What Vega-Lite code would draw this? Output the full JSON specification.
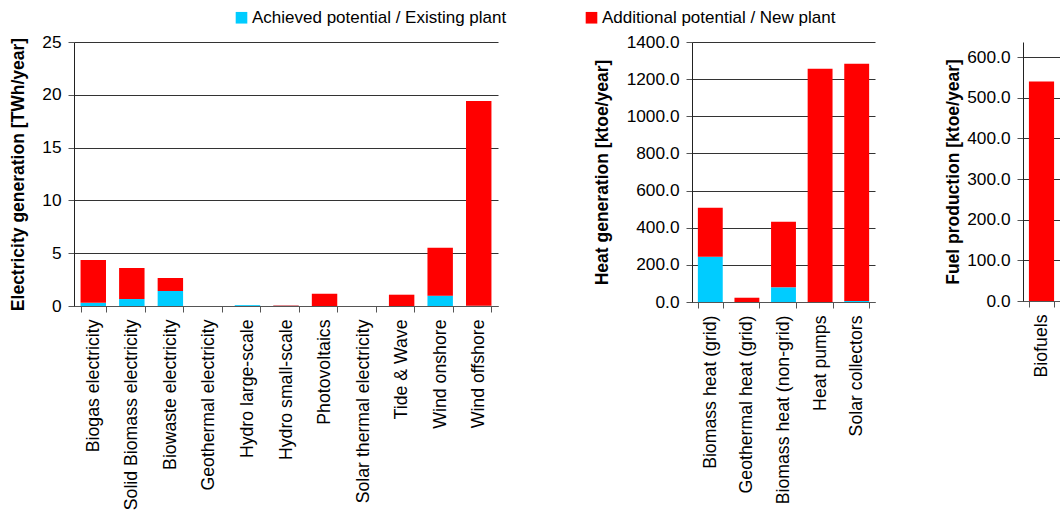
{
  "$schema": "https://vega.github.io/schema/vega-lite/v6.json",
  "padding": {"left": 9, "top": 9, "right": 0, "bottom": 0},
  "background": "white",
  "config": {
    "font": "Liberation Sans",
    "view": {"stroke": null},
    "axis": {
      "labelFont": "Liberation Sans", "labelFontSize": 17.3, "labelColor": "#000", "labelLimit": 400,
      "titleFont": "Liberation Sans", "titleFontSize": 17.5, "titleFontWeight": "bold", "titleColor": "#000",
      "tickColor": "#555", "domainColor": "#222", "gridColor": "#333", "gridOpacity": 1,
      "tickSize": 6, "labelPadding": 7, "labelOverlap": false, "labelFlush": false
    },
    "axisX": {"labelFontSize": 17.7},
    "legend": {"labelFont": "Liberation Sans", "labelFontSize": 17, "labelColor": "#000", "labelLimit": 400}
  },
  "datasets": {
    "d": [
      {"panel": "elec", "tech": "Biogas electricity", "series": "Achieved potential / Existing plant", "value": 0.3},
      {"panel": "elec", "tech": "Biogas electricity", "series": "Additional potential / New plant", "value": 4.05},
      {"panel": "elec", "tech": "Solid Biomass electricity", "series": "Achieved potential / Existing plant", "value": 0.66},
      {"panel": "elec", "tech": "Solid Biomass electricity", "series": "Additional potential / New plant", "value": 2.94},
      {"panel": "elec", "tech": "Biowaste electricity", "series": "Achieved potential / Existing plant", "value": 1.42},
      {"panel": "elec", "tech": "Biowaste electricity", "series": "Additional potential / New plant", "value": 1.23},
      {"panel": "elec", "tech": "Geothermal electricity", "series": "Achieved potential / Existing plant", "value": 0},
      {"panel": "elec", "tech": "Geothermal electricity", "series": "Additional potential / New plant", "value": 0},
      {"panel": "elec", "tech": "Hydro large-scale", "series": "Achieved potential / Existing plant", "value": 0.08},
      {"panel": "elec", "tech": "Hydro large-scale", "series": "Additional potential / New plant", "value": 0},
      {"panel": "elec", "tech": "Hydro small-scale", "series": "Achieved potential / Existing plant", "value": 0.02},
      {"panel": "elec", "tech": "Hydro small-scale", "series": "Additional potential / New plant", "value": 0.04},
      {"panel": "elec", "tech": "Photovoltaics", "series": "Achieved potential / Existing plant", "value": 0.01},
      {"panel": "elec", "tech": "Photovoltaics", "series": "Additional potential / New plant", "value": 1.16},
      {"panel": "elec", "tech": "Solar thermal electricity", "series": "Achieved potential / Existing plant", "value": 0},
      {"panel": "elec", "tech": "Solar thermal electricity", "series": "Additional potential / New plant", "value": 0},
      {"panel": "elec", "tech": "Tide & Wave", "series": "Achieved potential / Existing plant", "value": 0},
      {"panel": "elec", "tech": "Tide & Wave", "series": "Additional potential / New plant", "value": 1.07},
      {"panel": "elec", "tech": "Wind onshore", "series": "Achieved potential / Existing plant", "value": 0.98},
      {"panel": "elec", "tech": "Wind onshore", "series": "Additional potential / New plant", "value": 4.54},
      {"panel": "elec", "tech": "Wind offshore", "series": "Achieved potential / Existing plant", "value": 0.02},
      {"panel": "elec", "tech": "Wind offshore", "series": "Additional potential / New plant", "value": 19.39},
      {"panel": "heat", "tech": "Biomass heat (grid)", "series": "Achieved potential / Existing plant", "value": 244},
      {"panel": "heat", "tech": "Biomass heat (grid)", "series": "Additional potential / New plant", "value": 264},
      {"panel": "heat", "tech": "Geothermal heat (grid)", "series": "Achieved potential / Existing plant", "value": 0},
      {"panel": "heat", "tech": "Geothermal heat (grid)", "series": "Additional potential / New plant", "value": 23},
      {"panel": "heat", "tech": "Biomass heat (non-grid)", "series": "Achieved potential / Existing plant", "value": 79},
      {"panel": "heat", "tech": "Biomass heat (non-grid)", "series": "Additional potential / New plant", "value": 353},
      {"panel": "heat", "tech": "Heat pumps", "series": "Achieved potential / Existing plant", "value": 0},
      {"panel": "heat", "tech": "Heat pumps", "series": "Additional potential / New plant", "value": 1256},
      {"panel": "heat", "tech": "Solar collectors", "series": "Achieved potential / Existing plant", "value": 6},
      {"panel": "heat", "tech": "Solar collectors", "series": "Additional potential / New plant", "value": 1277},
      {"panel": "fuel", "tech": "Biofuels", "series": "Achieved potential / Existing plant", "value": 0},
      {"panel": "fuel", "tech": "Biofuels", "series": "Additional potential / New plant", "value": 540}
    ]
  },
  "spacing": 194,
  "bounds": "flush",
  "hconcat": [
    {
      "data": {"name": "d"},
      "transform": [{"filter": "datum.panel === 'elec'"}],
      "width": 424,
      "height": 264,
      "mark": {"type": "bar"},
      "encoding": {
        "x": {"field": "tech", "type": "nominal", "sort": null,
              "scale": {"paddingInner": 0.34, "paddingOuter": 0.17},
              "axis": {"title": null, "labelAngle": -90, "tickBand": "extent", "grid": false, "domainColor": "#555"}},
        "y": {"field": "value", "type": "quantitative", "stack": "zero",
              "scale": {"domain": [0, 25], "nice": false},
              "axis": {"title": "Electricity generation [TWh/year]", "values": [0, 5, 10, 15, 20, 25], "grid": true, "titlePadding": 14}},
        "color": {"field": "series", "type": "nominal",
                  "scale": {"domain": ["Achieved potential / Existing plant", "Additional potential / New plant"], "range": ["#00CCFF", "#FF0000"]},
                  "legend": {"title": null, "orient": "none", "direction": "horizontal", "legendX": 159, "legendY": -33,
                             "symbolType": "square", "symbolSize": 135, "symbolStrokeWidth": 0, "symbolOpacity": 1,
                             "labelOffset": 2, "columnPadding": 76}},
        "order": {"field": "series", "type": "nominal", "sort": "ascending"}
      }
    },
    {
      "spacing": 148,
      "bounds": "flush",
      "hconcat": [
        {
          "data": {"name": "d"},
          "transform": [{"filter": "datum.panel === 'heat'"}],
          "width": 183,
          "height": 260,
          "mark": {"type": "bar"},
          "encoding": {
            "x": {"field": "tech", "type": "nominal", "sort": null,
                  "scale": {"paddingInner": 0.32, "paddingOuter": 0.16},
                  "axis": {"title": null, "labelAngle": -90, "tickBand": "extent", "grid": false, "domainColor": "#555"}},
            "y": {"field": "value", "type": "quantitative", "stack": "zero",
                  "scale": {"domain": [0, 1400], "nice": false},
                  "axis": {"title": "Heat generation [ktoe/year]", "values": [0, 200, 400, 600, 800, 1000, 1200, 1400], "format": ".1f", "grid": true, "titlePadding": 15}},
            "color": {"field": "series", "type": "nominal"},
            "order": {"field": "series", "type": "nominal", "sort": "ascending"}
          }
        },
        {
          "data": {"name": "d"},
          "transform": [{"filter": "datum.panel === 'fuel'"}],
          "width": 37,
          "height": 259,
          "mark": {"type": "bar"},
          "encoding": {
            "x": {"field": "tech", "type": "nominal", "sort": null,
                  "scale": {"paddingInner": 0.32, "paddingOuter": 0.16},
                  "axis": {"title": null, "labelAngle": -90, "tickBand": "extent", "grid": false, "domainColor": "#555"}},
            "y": {"field": "value", "type": "quantitative", "stack": "zero",
                  "scale": {"domain": [0, 637], "nice": false},
                  "axis": {"title": "Fuel production [ktoe/year]", "values": [0, 100, 200, 300, 400, 500, 600], "format": ".1f", "grid": true, "titlePadding": 4}},
            "color": {"field": "series", "type": "nominal"},
            "order": {"field": "series", "type": "nominal", "sort": "ascending"}
          }
        }
      ]
    }
  ]
}
